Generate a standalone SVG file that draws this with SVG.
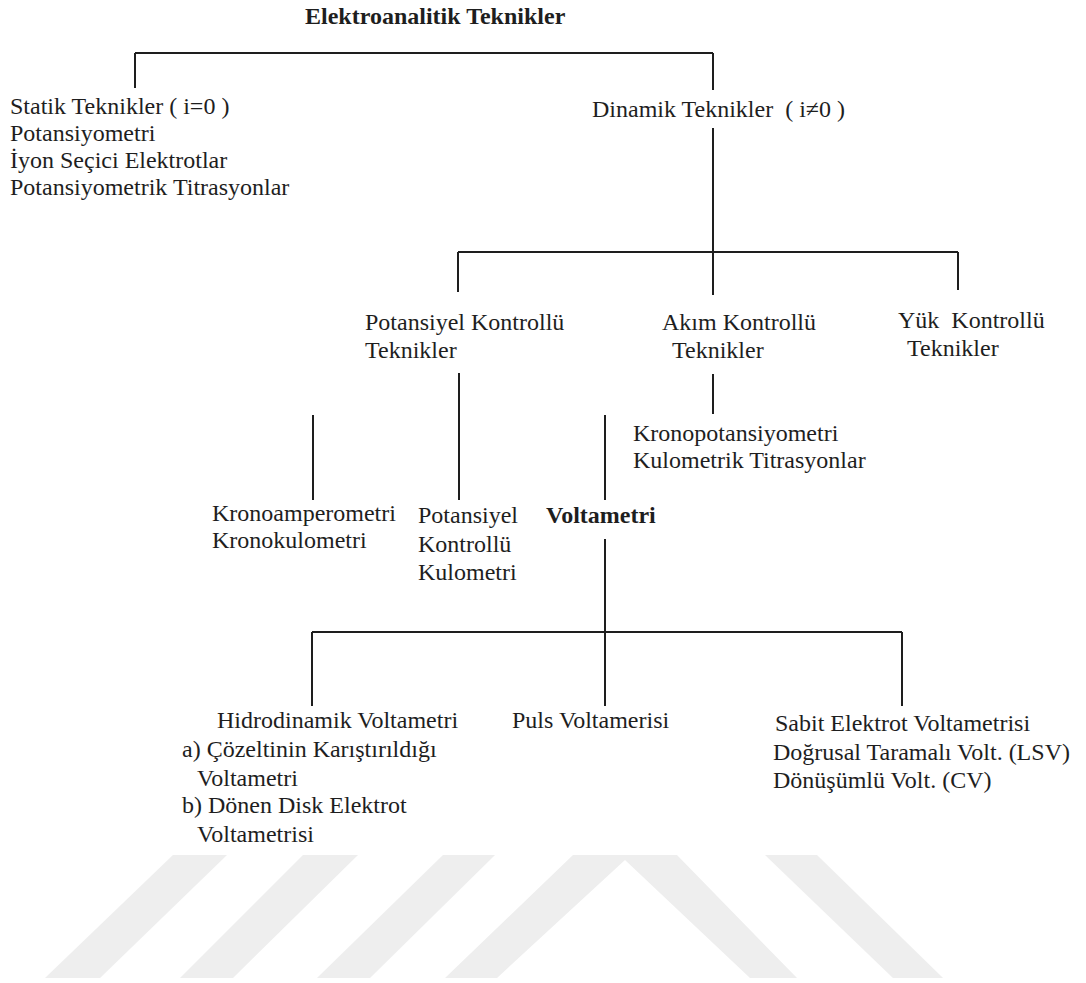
<svg xmlns="http://www.w3.org/2000/svg" width="1086" height="983" viewBox="0 0 1086 983">
<style>
text{font-family:"Liberation Serif","Times New Roman",serif;font-size:24px;fill:#1e1e1e}
.b{font-weight:bold}
.c line{stroke:#1e1e1e;stroke-width:2;fill:none}
.wm{fill:#eeeeee}
</style>
<rect width="1086" height="983" fill="#ffffff"/>
<g id="watermark">
<polygon class="wm" points="173,855 227,855 100,978 45,978"/>
<polygon class="wm" points="303,855 358,855 233,978 180,978"/>
<polygon class="wm" points="443,855 495,855 370,978 317,978"/>
<polygon class="wm" points="573,855 677,855 797,978 750,978 625,860 497,978 445,978"/>
<polygon class="wm" points="765,855 817,855 943,978 893,978"/>
</g>
<g class="c" id="connectors">
<line x1="135" y1="53" x2="713" y2="53"/>
<line x1="135" y1="53" x2="135" y2="88"/>
<line x1="713" y1="53" x2="713" y2="90"/>
<line x1="713" y1="128" x2="713" y2="295"/>
<line x1="458" y1="252" x2="958" y2="252"/>
<line x1="458" y1="252" x2="458" y2="292"/>
<line x1="958" y1="252" x2="958" y2="290"/>
<line x1="459" y1="373" x2="459" y2="500"/>
<line x1="713" y1="374" x2="713" y2="414"/>
<line x1="313" y1="415" x2="313" y2="500"/>
<line x1="605" y1="415" x2="605" y2="500"/>
<line x1="605" y1="539" x2="605" y2="706"/>
<line x1="312" y1="632" x2="902" y2="632"/>
<line x1="312" y1="632" x2="312" y2="706"/>
<line x1="902" y1="632" x2="902" y2="706"/>
</g>
<g id="root"><text class="b" x="305" y="24">Elektroanalitik Teknikler</text></g>
<g id="statik">
<text x="10" y="114">Statik Teknikler ( i=0 )</text>
<text x="10" y="141">Potansiyometri</text>
<text x="10" y="168">İyon Seçici Elektrotlar</text>
<text x="10" y="195">Potansiyometrik Titrasyonlar</text>
</g>
<g id="dinamik"><text x="592" y="117" xml:space="preserve">Dinamik Teknikler  ( i≠0 )</text></g>
<g id="potansiyel-kontrollu">
<text x="365" y="330">Potansiyel Kontrollü</text>
<text x="365" y="358">Teknikler</text>
</g>
<g id="akim-kontrollu">
<text x="662" y="330">Akım Kontrollü</text>
<text x="672" y="358">Teknikler</text>
</g>
<g id="yuk-kontrollu">
<text x="898" y="328" xml:space="preserve">Yük  Kontrollü</text>
<text x="907" y="356">Teknikler</text>
</g>
<g id="kronopotansiyometri">
<text x="633" y="441">Kronopotansiyometri</text>
<text x="633" y="468">Kulometrik Titrasyonlar</text>
</g>
<g id="kronoamperometri">
<text x="212" y="521">Kronoamperometri</text>
<text x="212" y="548">Kronokulometri</text>
</g>
<g id="pk-kulometri">
<text x="418" y="523">Potansiyel</text>
<text x="418" y="552">Kontrollü</text>
<text x="418" y="580">Kulometri</text>
</g>
<g id="voltametri"><text class="b" x="546" y="523">Voltametri</text></g>
<g id="hidrodinamik">
<text x="217" y="728">Hidrodinamik Voltametri</text>
<text x="182" y="757">a) Çözeltinin Karıştırıldığı</text>
<text x="197" y="786">Voltametri</text>
<text x="182" y="813">b) Dönen Disk Elektrot</text>
<text x="197" y="842">Voltametrisi</text>
</g>
<g id="puls"><text x="512" y="728">Puls Voltamerisi</text></g>
<g id="sabit">
<text x="775" y="731">Sabit Elektrot Voltametrisi</text>
<text x="773" y="760">Doğrusal Taramalı Volt. (LSV)</text>
<text x="773" y="788">Dönüşümlü Volt. (CV)</text>
</g>
</svg>
